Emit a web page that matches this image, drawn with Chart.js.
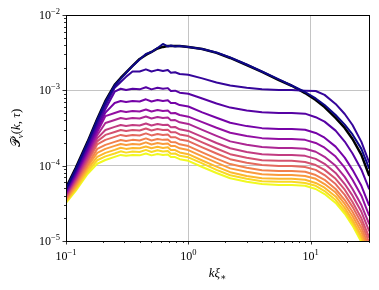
<!DOCTYPE html>
<html>
<head>
<meta charset="utf-8">
<script src="https://cdn.jsdelivr.net/npm/chart.js@4.4.1/dist/chart.umd.min.js"></script>
<style>
  html, body { margin: 0; padding: 0; background: #fff; }
</style>
</head>
<body>
<canvas id="spectrum" width="379" height="290"></canvas>
<script>
// k * xi_* sample points
const kXi = [0.1, 0.12, 0.15, 0.18, 0.21, 0.25, 0.28, 0.31, 0.35, 0.4, 0.45, 0.5, 0.56, 0.62, 0.68, 0.72, 0.78, 0.85,
  1.0, 1.3, 1.7, 2.2, 3, 4, 5.5, 7, 9, 11, 13, 16, 19, 22, 26, 30];

// final spectrum (black)
const pFinal = [5.06e-5, 9.3e-5, 2.07e-4, 4.17e-4, 7.22e-4, 1.18e-3, 1.46e-3, 1.73e-3, 2.11e-3, 2.61e-3, 2.95e-3, 3.23e-3, 3.6e-3, 3.77e-3, 3.88e-3, 3.88e-3, 3.88e-3, 3.88e-3,
  3.77e-3, 3.54e-3, 3.14e-3, 2.69e-3, 2.17e-3, 1.76e-3, 1.37e-3, 1.15e-3, 9.2e-4, 7.44e-4, 6.0e-4, 4.3e-4, 3.17e-4, 2.26e-4, 1.39e-4, 7.5e-5];

// spectra at successive times, latest first
const p01 = [4.9e-5, 9.0e-5, 2.0e-4, 4.04e-4, 7.0e-4, 1.16e-3, 1.42e-3, 1.7e-3, 2.11e-3, 2.57e-3, 3.04e-3, 3.23e-3, 3.65e-3, 4.13e-3, 3.82e-3, 3.94e-3, 3.82e-3, 3.88e-3,
  3.77e-3, 3.54e-3, 3.18e-3, 2.73e-3, 2.2e-3, 1.78e-3, 1.4e-3, 1.16e-3, 9.5e-4, 7.8e-4, 6.4e-4, 4.7e-4, 3.5e-4, 2.6e-4, 1.67e-4, 9.3e-5];
const p02 = [4.8e-5, 8.5e-5, 1.89e-4, 3.69e-4, 6.3e-4, 1.08e-3, 1.29e-3, 1.51e-3, 1.78e-3, 1.78e-3, 1.9e-3, 1.78e-3, 1.87e-3, 1.81e-3, 1.86e-3, 1.71e-3, 1.74e-3, 1.65e-3,
  1.61e-3, 1.44e-3, 1.27e-3, 1.16e-3, 1.08e-3, 1.03e-3, 1.01e-3, 1.01e-3, 9.9e-4, 9.8e-4, 8.7e-4, 6.6e-4, 4.85e-4, 3.47e-4, 2.07e-4, 1.12e-4];
const p03 = [4.62e-5, 8.1e-5, 1.72e-4, 3.37e-4, 5.65e-4, 9.6e-4, 1.05e-3, 1.01e-3, 1.05e-3, 1.03e-3, 1.1e-3, 1.03e-3, 1.08e-3, 1.05e-3, 1.07e-3, 9.8e-4, 9.9e-4, 9.3e-4,
  9.0e-4, 7.8e-4, 6.7e-4, 5.9e-4, 5.4e-4, 5.1e-4, 5.0e-4, 5.0e-4, 4.9e-4, 4.4e-4, 3.84e-4, 2.92e-4, 2.09e-4, 1.45e-4, 8.85e-5, 4.96e-5];
const p04 = [4.45e-5, 7.7e-5, 1.62e-4, 3.07e-4, 5.06e-4, 6.79e-4, 7.22e-4, 7.0e-4, 7.22e-4, 7.1e-4, 7.6e-4, 7.1e-4, 7.44e-4, 7.22e-4, 7.37e-4, 6.77e-4, 6.79e-4, 6.37e-4,
  6.1e-4, 5.1e-4, 4.33e-4, 3.71e-4, 3.35e-4, 3.15e-4, 3.07e-4, 3.07e-4, 3.0e-4, 2.72e-4, 2.35e-4, 1.79e-4, 1.28e-4, 8.8e-5, 5.4e-5, 3.0e-5];
const p05 = [4.3e-5, 7.35e-5, 1.5e-4, 2.78e-4, 4.55e-4, 5.0e-4, 5.32e-4, 5.15e-4, 5.32e-4, 5.24e-4, 5.56e-4, 5.24e-4, 5.48e-4, 5.32e-4, 5.39e-4, 4.97e-4, 5.0e-4, 4.7e-4,
  4.47e-4, 3.78e-4, 3.19e-4, 2.74e-4, 2.47e-4, 2.32e-4, 2.26e-4, 2.26e-4, 2.2e-4, 2.0e-4, 1.73e-4, 1.32e-4, 9.4e-5, 6.5e-5, 4.0e-5, 2.2e-5];
const p06 = [4.15e-5, 6.9e-5, 1.39e-4, 2.53e-4, 3.69e-4, 4.04e-4, 4.3e-4, 4.16e-4, 4.3e-4, 4.23e-4, 4.5e-4, 4.23e-4, 4.43e-4, 4.3e-4, 4.35e-4, 4.02e-4, 4.03e-4, 3.76e-4,
  3.58e-4, 2.98e-4, 2.48e-4, 2.1e-4, 1.89e-4, 1.77e-4, 1.72e-4, 1.72e-4, 1.68e-4, 1.53e-4, 1.31e-4, 9.95e-5, 7.1e-5, 4.9e-5, 3.0e-5, 1.7e-5];
const p07 = [4.03e-5, 6.6e-5, 1.29e-4, 2.3e-4, 2.98e-4, 3.27e-4, 3.47e-4, 3.37e-4, 3.47e-4, 3.42e-4, 3.63e-4, 3.42e-4, 3.58e-4, 3.47e-4, 3.49e-4, 3.24e-4, 3.26e-4, 3.04e-4,
  2.89e-4, 2.41e-4, 2.0e-4, 1.7e-4, 1.52e-4, 1.42e-4, 1.39e-4, 1.39e-4, 1.35e-4, 1.23e-4, 1.06e-4, 8.0e-5, 5.7e-5, 4.0e-5, 2.44e-5, 1.37e-5];
const p08 = [3.9e-5, 6.3e-5, 1.2e-4, 2.1e-4, 2.56e-4, 2.8e-4, 2.98e-4, 2.88e-4, 2.98e-4, 2.93e-4, 3.12e-4, 2.93e-4, 3.07e-4, 2.98e-4, 3.0e-4, 2.78e-4, 2.78e-4, 2.6e-4,
  2.47e-4, 2.04e-4, 1.69e-4, 1.42e-4, 1.27e-4, 1.18e-4, 1.16e-4, 1.16e-4, 1.12e-4, 1.02e-4, 8.8e-5, 6.7e-5, 4.8e-5, 3.3e-5, 2.0e-5, 1.13e-5];
const p09 = [3.77e-5, 6.0e-5, 1.12e-4, 1.91e-4, 2.2e-4, 2.41e-4, 2.56e-4, 2.48e-4, 2.56e-4, 2.52e-4, 2.68e-4, 2.52e-4, 2.64e-4, 2.56e-4, 2.59e-4, 2.39e-4, 2.39e-4, 2.23e-4,
  2.12e-4, 1.75e-4, 1.45e-4, 1.22e-4, 1.09e-4, 1.02e-4, 9.9e-5, 9.9e-5, 9.6e-5, 8.8e-5, 7.5e-5, 5.7e-5, 4.1e-5, 2.84e-5, 1.74e-5, 9.7e-6];
const p10 = [3.65e-5, 5.7e-5, 1.03e-4, 1.67e-4, 1.89e-4, 2.07e-4, 2.19e-4, 2.13e-4, 2.2e-4, 2.16e-4, 2.3e-4, 2.16e-4, 2.26e-4, 2.2e-4, 2.23e-4, 2.06e-4, 2.05e-4, 1.92e-4,
  1.82e-4, 1.5e-4, 1.24e-4, 1.05e-4, 9.4e-5, 8.7e-5, 8.5e-5, 8.5e-5, 8.3e-5, 7.5e-5, 6.5e-5, 4.9e-5, 3.5e-5, 2.44e-5, 1.5e-5, 8.4e-6];
const p11 = [3.52e-5, 5.4e-5, 9.7e-5, 1.48e-4, 1.67e-4, 1.83e-4, 1.94e-4, 1.88e-4, 1.94e-4, 1.91e-4, 2.04e-4, 1.91e-4, 2.0e-4, 1.94e-4, 1.97e-4, 1.82e-4, 1.82e-4, 1.7e-4,
  1.61e-4, 1.33e-4, 1.1e-4, 9.2e-5, 8.3e-5, 7.7e-5, 7.5e-5, 7.5e-5, 7.3e-5, 6.7e-5, 5.7e-5, 4.4e-5, 3.1e-5, 2.15e-5, 1.32e-5, 7.4e-6];
const p12 = [3.43e-5, 5.1e-5, 9.0e-5, 1.31e-4, 1.48e-4, 1.62e-4, 1.73e-4, 1.67e-4, 1.72e-4, 1.7e-4, 1.8e-4, 1.7e-4, 1.78e-4, 1.72e-4, 1.75e-4, 1.61e-4, 1.61e-4, 1.5e-4,
  1.42e-4, 1.17e-4, 9.7e-5, 8.2e-5, 7.3e-5, 6.8e-5, 6.7e-5, 6.7e-5, 6.5e-5, 5.9e-5, 5.1e-5, 3.9e-5, 2.75e-5, 1.9e-5, 1.17e-5, 6.6e-6];
const p13 = [3.31e-5, 4.86e-5, 8.3e-5, 1.18e-4, 1.33e-4, 1.45e-4, 1.55e-4, 1.49e-4, 1.54e-4, 1.52e-4, 1.62e-4, 1.52e-4, 1.6e-4, 1.54e-4, 1.57e-4, 1.44e-4, 1.45e-4, 1.35e-4,
  1.29e-4, 1.07e-4, 8.8e-5, 7.45e-5, 6.7e-5, 6.2e-5, 6.1e-5, 6.1e-5, 5.9e-5, 5.4e-5, 4.6e-5, 3.5e-5, 2.5e-5, 1.74e-5, 1.07e-5, 6.0e-6];
const p14 = [3.2e-5, 4.62e-5, 7.75e-5, 1.06e-4, 1.19e-4, 1.31e-4, 1.39e-4, 1.35e-4, 1.39e-4, 1.37e-4, 1.45e-4, 1.37e-4, 1.43e-4, 1.39e-4, 1.41e-4, 1.3e-4, 1.3e-4, 1.22e-4,
  1.16e-4, 9.6e-5, 8.0e-5, 6.8e-5, 6.1e-5, 5.7e-5, 5.55e-5, 5.55e-5, 5.4e-5, 4.9e-5, 4.2e-5, 3.2e-5, 2.3e-5, 1.6e-5, 9.7e-6, 5.5e-6];

// decade exponents for the tick labels
const xTickExps = [-1, 0, 1];
const yTickExps = [-2, -3, -4, -5];

// plasma colormap samples, one per spectrum
const plasma = ["#0d0887", "#35059a", "#5602a3", "#7503a7", "#920fa2", "#ac2693", "#c23c81",
  "#d45270", "#e4695e", "#f1814d", "#f99b3d", "#fcb82e", "#f9d824", "#f0f921"];

const spectra = [p01, p02, p03, p04, p05, p06, p07, p08, p09, p10, p11, p12, p13, p14];

const SERIF = '"Liberation Serif", "DejaVu Serif", serif';

function isDecade(v) {
  if (!v) return false;
  const l = Math.log10(v);
  return Math.abs(l - Math.round(l)) < 1e-6;
}

function toPoints(arr) {
  return kXi.map((k, i) => ({ x: k, y: arr[i] }));
}

// draw a run of text pieces centred on cx, each piece with its own font / offset
function drawRich(ctx, segs, cx, y) {
  let w = 0;
  segs.forEach((s) => {
    ctx.font = s.font;
    s.w = ctx.measureText(s.t).width;
    w += s.w;
  });
  let x = cx - w / 2;
  ctx.textAlign = "left";
  ctx.textBaseline = "alphabetic";
  segs.forEach((s) => {
    ctx.font = s.font;
    ctx.fillText(s.t, x, y + (s.dy || 0));
    x += s.w;
  });
  return w;
}

function powLabel(exp) {
  return [
    { t: "10", font: "12px " + SERIF },
    { t: (exp < 0 ? "\u2212" : "") + Math.abs(exp), font: "8.5px " + SERIF, dy: -5 },
  ];
}

const axesDecor = {
  id: "axesDecor",
  afterDraw(chart) {
    const { ctx, chartArea: a } = chart;
    const xs = chart.scales.x;
    const ys = chart.scales.y;
    ctx.save();
    ctx.fillStyle = "#000";
    ctx.strokeStyle = "#000";

    // tick marks, major and minor
    ctx.lineWidth = 0.8;
    ctx.beginPath();
    [-1, 0, 1].forEach((e) => {
      for (let m = 1; m <= 9; m++) {
        const v = m * Math.pow(10, e);
        if (v < 0.0999 || v > 30.001) continue;
        const px = Math.round(xs.getPixelForValue(v)) + 0.5;
        const len = m === 1 ? 3.5 : 2;
        ctx.moveTo(px, a.bottom);
        ctx.lineTo(px, a.bottom + len);
      }
    });
    [-5, -4, -3, -2].forEach((e) => {
      for (let m = 1; m <= 9; m++) {
        const v = m * Math.pow(10, e);
        if (v > 0.010001) continue;
        const py = Math.round(ys.getPixelForValue(v)) + 0.5;
        const len = m === 1 ? 3.5 : 2;
        ctx.moveTo(a.left, py);
        ctx.lineTo(a.left - len, py);
      }
    });
    ctx.stroke();

    // frame
    ctx.lineWidth = 1;
    ctx.strokeRect(Math.round(a.left) + 0.5, Math.round(a.top) + 0.5,
      Math.round(a.right - a.left), Math.round(a.bottom - a.top));

    // tick labels
    xTickExps.forEach((e) => {
      const px = xs.getPixelForValue(Math.pow(10, e));
      drawRich(ctx, powLabel(e), px, a.bottom + 19);
    });
    yTickExps.forEach((e) => {
      const py = ys.getPixelForValue(Math.pow(10, e));
      const segs = powLabel(e);
      let w = 0;
      segs.forEach((s) => { ctx.font = s.font; w += ctx.measureText(s.t).width; });
      drawRich(ctx, segs, a.left - 6 - w / 2, py + 4);
    });

    // axis titles
    const it = "italic 13px " + SERIF;
    const up = "13px " + SERIF;
    drawRich(ctx, [
      { t: "k", font: it },
      { t: "\u03be", font: it },
      { t: "\u2217", font: "9px " + SERIF, dy: 3 },
    ], (a.left + a.right) / 2, a.bottom + 36);

    ctx.translate(20, (a.top + a.bottom) / 2);
    ctx.rotate(-Math.PI / 2);
    drawRich(ctx, [
      { t: "\ud835\udcab", font: up },
      { t: "v", font: "italic 9px " + SERIF, dy: 3 },
      { t: "(", font: up },
      { t: "k", font: it },
      { t: ", ", font: up },
      { t: "\u03c4", font: it },
      { t: ")", font: up },
    ], 0, 0);
    ctx.restore();
  },
};

const datasets = spectra.map((arr, i) => ({
  label: "t" + (i + 1),
  data: toPoints(arr),
  borderColor: plasma[i],
  borderWidth: 2,
}));
datasets.push({
  label: "final",
  data: toPoints(pFinal),
  borderColor: "#000",
  borderWidth: 2.5,
});

const gridOpts = {
  color: (c) => (c.tick && isDecade(c.tick.value) ? "#c4c4c4" : "rgba(0,0,0,0)"),
  lineWidth: 1,
  drawTicks: false,
};

new Chart(document.getElementById("spectrum"), {
  type: "line",
  data: { datasets },
  options: {
    responsive: false,
    animation: false,
    devicePixelRatio: 1,
    elements: {
      point: { radius: 0 },
      line: { tension: 0, borderCapStyle: "round", borderJoinStyle: "round" },
    },
    layout: { padding: { left: 66, right: 10, top: 15, bottom: 49 } },
    plugins: { legend: { display: false }, tooltip: { enabled: false } },
    scales: {
      x: {
        type: "logarithmic",
        min: 0.1,
        max: 30,
        grid: gridOpts,
        border: { display: false },
        ticks: { display: false },
        afterFit: (s) => { s.height = 0; },
      },
      y: {
        type: "logarithmic",
        min: 1e-5,
        max: 1e-2,
        grid: gridOpts,
        border: { display: false },
        ticks: { display: false },
        afterFit: (s) => { s.width = 0; },
      },
    },
  },
  plugins: [axesDecor],
});
</script>
</body>
</html>
